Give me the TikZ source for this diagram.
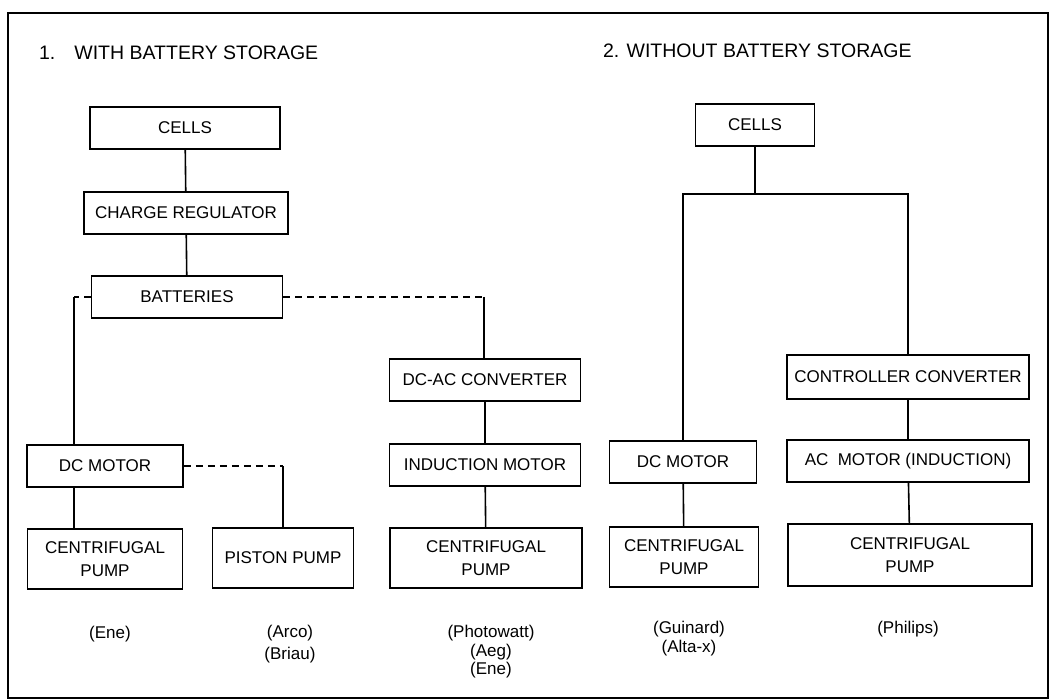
\documentclass[tikz,border=0pt]{standalone}
\usepackage{fontspec}
\setmainfont{Liberation Sans}
\usetikzlibrary{positioning, calc}

\begin{document}
\begin{tikzpicture}[
		x=1pt, y=-1pt,
		line width=1.6pt,
		font=\fontsize{17}{23}\selectfont,
		baseBox/.style={rectangle, draw=black, inner sep=0pt, align=center, minimum height=42pt},
		pumpBox/.style={baseBox, minimum height=60pt},
		titleText/.style={anchor=west, font=\fontsize{19.5}{23}\selectfont},
		makerText/.style={align=center, font=\fontsize{17}{20}\selectfont},
		link/.style={draw=black},
		optLink/.style={draw=black, line width=1.3pt, dash pattern=on 7pt off 5pt}
		]

		\useasboundingbox (0,0) rectangle (1057,700);
		\draw[line width=2pt] (8,13) rectangle (1048,698);

		% Titles
		\node[titleText] (titleA) at (35,53) {1.\hspace{19pt}WITH BATTERY STORAGE};
		\node[titleText] (titleB) at (599,51) {2. WITHOUT BATTERY STORAGE};

		% With battery storage
		\node[baseBox, minimum width=190pt] (cellsA) at (185,128) {CELLS};
		\node[baseBox, minimum width=204pt] (regA) at (186,213) {CHARGE REGULATOR};
		\node[baseBox, minimum width=191pt] (batA) at (187,297) {BATTERIES};
		\node[baseBox, minimum width=156pt] (dcmA) at (105,466) {DC MOTOR};
		\node[pumpBox, minimum width=155pt] (cpA) at (105,559) {CENTRIFUGAL\\PUMP};
		\node[pumpBox, minimum width=141pt] (ppA) at (283,558) {PISTON PUMP};
		\node[baseBox, minimum width=191pt] (convA) at (485,380) {DC-AC CONVERTER};
		\node[baseBox, minimum width=191pt] (indA) at (485,465) {INDUCTION MOTOR};
		\node[pumpBox, minimum width=192pt] (cpB) at (486,558) {CENTRIFUGAL\\PUMP};

		% Without battery storage
		\node[baseBox, minimum width=119pt] (cellsB) at (755,125) {CELLS};
		\node[baseBox, minimum width=147pt] (dcmB) at (683,462) {DC MOTOR};
		\node[pumpBox, minimum width=149pt] (cpC) at (684,557) {CENTRIFUGAL\\PUMP};
		\node[baseBox, minimum width=242pt, minimum height=44pt] (ctrlB) at (908,377) {CONTROLLER CONVERTER};
		\node[baseBox, minimum width=242pt] (acmB) at (908,461) {AC\ \ MOTOR (INDUCTION)};
		\node[pumpBox, minimum width=244pt, minimum height=62pt] (cpD) at (910,555) {CENTRIFUGAL\\PUMP};

		% Makers
		\node[makerText] (mkA) at (110,634) {(Ene)};
		\node[makerText, font=\fontsize{17}{22}\selectfont] (mkB) at (290,644) {(Arco)\\(Briau)};
		\node[makerText, font=\fontsize{17}{18.5}\selectfont] (mkC) at (491,652) {(Photowatt)\\(Aeg)\\(Ene)};
		\node[makerText, font=\fontsize{17}{19}\selectfont] (mkD) at (689,639) {(Guinard)\\(Alta-x)};
		\node[makerText] (mkE) at (908,629) {(Philips)};

		% Lines
		\coordinate (kneeL) at (74,297);
		\coordinate (kneeM) at (484,297);
		\coordinate (kneeP) at (283,466);
		\coordinate (split) at (755,194);

		\draw[link] (cellsA) -- (regA);
		\draw[link] (regA) -- (batA);
		\draw[optLink] (batA.west) -- (kneeL);
		\draw[link] (kneeL) -- (kneeL |- dcmA.north);
		\draw[optLink] (batA.east) -- (kneeM);
		\draw[link] (kneeM) -- (convA.north -| kneeM);
		\draw[link] (convA) -- (indA);
		\draw[link] (indA) -- (cpB);
		\draw[link] (kneeL |- dcmA.south) -- (kneeL |- cpA.north);
		\draw[optLink] (dcmA.east) -- (kneeP);
		\draw[link] (kneeP) -- (ppA);

		\draw[link] (cellsB) -- (split);
		\draw[link] (dcmB.north) |- (split) -| (ctrlB.north);
		\draw[link] (dcmB) -- (cpC);
		\draw[link] (ctrlB) -- (acmB);
		\draw[link] (acmB) -- (cpD);

	\end{tikzpicture}
\end{document}
